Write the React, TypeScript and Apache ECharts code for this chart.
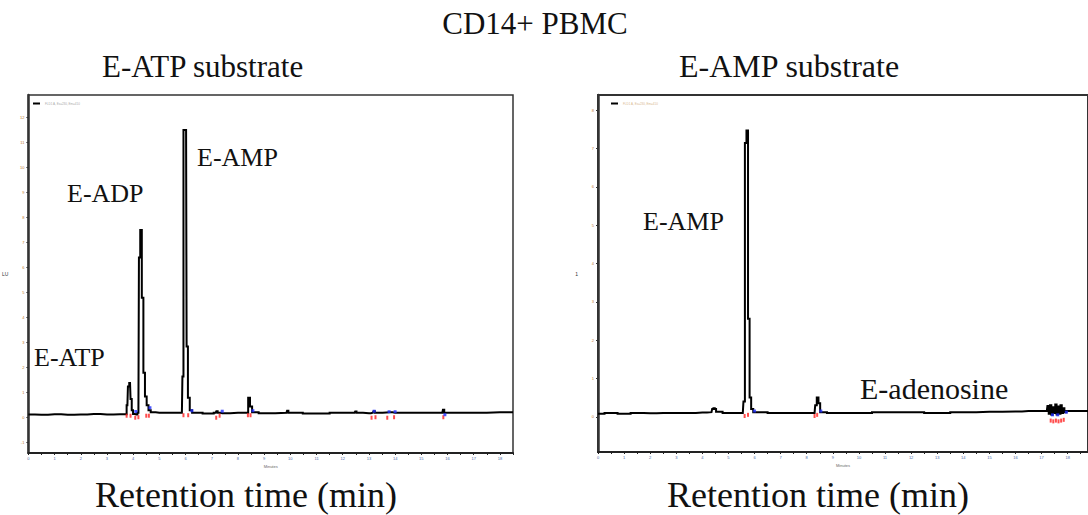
import React, { useEffect, useRef } from "react";
import * as echarts from "echarts";

// ---- Left panel: E-ATP substrate ----
const leftTime = [0.0, 0.5, 1.0, 1.5, 2.0, 2.5, 3.0, 3.5, 3.72, 3.78, 3.82, 3.88, 3.92, 3.97, 4.02, 4.12, 4.2, 4.24, 4.3, 4.36, 4.42, 4.48, 4.55, 4.62, 4.72, 5.0, 5.4, 5.86, 5.9, 5.94, 6.02, 6.06, 6.12, 6.2, 6.3, 7.0, 7.15, 7.2, 7.25, 7.4, 8.0, 8.36, 8.42, 8.5, 8.58, 9.0, 9.85, 9.9, 9.95, 11.0, 12.0, 12.45, 12.5, 12.55, 13.0, 13.15, 13.2, 13.25, 13.8, 14.0, 15.0, 15.8, 15.85, 15.9, 17.0, 18.0, 18.5];
const leftSignal = [0.13, 0.12, 0.14, 0.12, 0.13, 0.15, 0.13, 0.14, 0.14, 0.5, 1.25, 1.39, 0.75, 0.3, 0.15, 0.13, 0.2, 6.4, 7.5, 4.8, 1.8, 0.85, 0.5, 0.3, 0.22, 0.2, 0.2, 0.2, 1.65, 11.5, 11.5, 2.85, 0.8, 0.3, 0.2, 0.17, 0.2, 0.26, 0.2, 0.18, 0.2, 0.2, 0.8, 0.45, 0.22, 0.18, 0.2, 0.28, 0.2, 0.17, 0.2, 0.2, 0.25, 0.2, 0.18, 0.2, 0.26, 0.2, 0.22, 0.2, 0.2, 0.2, 0.32, 0.2, 0.2, 0.22, 0.22];
const leftRedTime = [3.75, 3.9, 4.08, 4.2, 4.5, 4.6, 5.92, 6.1, 7.17, 7.3, 8.38, 8.48, 13.1, 13.25, 13.7, 13.96, 15.84];
const leftRedLevel = [0.08, 0.08, 0.0, 0.02, 0.08, 0.08, 0.1, 0.1, 0.0, 0.08, 0.1, 0.1, 0.0, 0.02, 0.0, 0.02, 0.02];
const leftBlueTime = [4.1, 4.64, 6.24, 7.4, 8.57, 13.2, 13.77, 14.0, 15.9];
const leftBlueLevel = [0.25, 0.4, 0.28, 0.26, 0.28, 0.26, 0.24, 0.24, 0.12];
const leftYTicks = [-1, 0, 1, 2, 3, 4, 5, 6, 7, 8, 9, 10, 11, 12];

// ---- Right panel: E-AMP substrate ----
const rightTime = [0.0, 0.5, 1.0, 1.5, 2.0, 2.5, 3.0, 3.5, 4.0, 4.35, 4.4, 4.45, 4.5, 4.55, 5.0, 5.55, 5.6, 5.66, 5.72, 5.78, 5.84, 5.9, 6.0, 7.0, 8.3, 8.35, 8.42, 8.48, 8.55, 9.0, 10.0, 11.0, 12.0, 13.0, 14.0, 15.0, 16.0, 16.5, 17.0, 17.2, 17.25, 17.3, 17.35, 17.4, 17.45, 17.5, 17.55, 17.6, 17.65, 17.7, 17.75, 17.8, 17.85, 17.9, 18.0, 18.8];
const rightSignal = [0.08, 0.1, 0.08, 0.1, 0.09, 0.1, 0.1, 0.1, 0.11, 0.12, 0.2, 0.22, 0.2, 0.13, 0.1, 0.1, 0.4, 7.15, 7.47, 2.56, 0.5, 0.2, 0.12, 0.1, 0.1, 0.3, 0.5, 0.35, 0.12, 0.1, 0.1, 0.12, 0.12, 0.1, 0.12, 0.13, 0.14, 0.15, 0.15, 0.15, 0.28, 0.08, 0.3, 0.05, 0.25, 0.1, 0.32, 0.06, 0.27, 0.08, 0.3, 0.1, 0.22, 0.12, 0.15, 0.15];
const rightRedTime = [5.62, 5.75, 8.3, 8.4, 17.35, 17.45, 17.55, 17.65, 17.75, 17.85];
const rightRedLevel = [0.02, 0.05, 0.02, 0.05, -0.1, -0.12, -0.1, -0.12, -0.1, -0.08];
const rightBlueTime = [6.0, 8.54, 17.42, 17.62, 17.95];
const rightBlueLevel = [0.15, 0.15, 0.05, 0.05, 0.12];
const rightYTicks = [0, 1, 2, 3, 4, 5, 6, 7, 8];

const zip = (a: number[], b: number[]) => a.map((v, i) => [v, b[i]]);

const serif = '"Liberation Serif", "Times New Roman", serif';

function xAxis(gridIndex: number, max: number) {
  return {
    type: "value",
    gridIndex,
    min: 0,
    max,
    interval: 1,
    name: "Minutes",
    nameLocation: "middle",
    nameGap: 9,
    nameTextStyle: { fontSize: 4, color: "#666" },
    axisLine: { onZero: false, lineStyle: { color: "#222", width: 2 } },
    axisTick: { show: true, length: 2, lineStyle: { color: "#222" } },
    minorTick: { show: true, splitNumber: 2, length: 2, lineStyle: { color: "#222" } },
    axisLabel: { fontSize: 4, color: "#4a6aa8", margin: 3, showMaxLabel: false },
    splitLine: { show: false },
  };
}

function yAxis(gridIndex: number, min: number, max: number, ticks: number[], name: string) {
  return {
    type: "value",
    gridIndex,
    min,
    max,
    name,
    nameLocation: "middle",
    nameGap: 20,
    nameRotate: 0,
    nameTextStyle: { fontSize: 5, color: "#333" },
    axisLine: { show: true, lineStyle: { color: "#333", width: 2.5 } },
    axisTick: { show: true, length: 2, customValues: ticks, lineStyle: { color: "#333" } },
    axisLabel: { show: true, fontSize: 4, color: "#c07a30", margin: 4, customValues: ticks },
    splitLine: { show: false },
  };
}

function trace(name: string, idx: number, data: number[][]) {
  return {
    name,
    type: "line",
    xAxisIndex: idx,
    yAxisIndex: idx,
    data,
    step: "middle",
    showSymbol: false,
    symbol: "none",
    lineStyle: { color: "#000", width: 2, join: "miter" },
    itemStyle: { color: "#000" },
    z: 3,
  };
}

function marks(idx: number, data: number[][], color: string, size: number[]) {
  return {
    type: "scatter",
    xAxisIndex: idx,
    yAxisIndex: idx,
    data,
    symbol: "rect",
    symbolSize: size,
    itemStyle: { color },
    z: 4,
    silent: true,
  };
}

function label(text: string, x: number, y: number, size: number, align = "left") {
  return {
    type: "text",
    x,
    y,
    style: {
      text,
      fontSize: size,
      fontFamily: serif,
      fill: "#111",
      align,
      verticalAlign: "middle",
    },
    z: 10,
  };
}

export default function App() {
  const ref = useRef<HTMLDivElement>(null);
  useEffect(() => {
    const chart = echarts.init(ref.current!, null, { renderer: "svg" });
    chart.setOption({
      animation: false,
      backgroundColor: "#fff",
      grid: [
        { left: 22, top: 95, width: 491, height: 358, show: true, borderColor: "#333", borderWidth: 1.5 },
        { left: 598, top: 95, width: 496, height: 357, show: true, borderColor: "#333", borderWidth: 2 },
      ],
      legend: [
        {
          data: ["FLD1 A, Ex=230, Em=410"],
          left: 28,
          top: 97,
          itemWidth: 7,
          itemHeight: 2,
          itemGap: 2,
          icon: "rect",
          textStyle: { fontSize: 3, color: "#aaa" },
        },
        {
          data: ["FLD1 A, Ex=230, Em=410 "],
          left: 606,
          top: 97,
          itemWidth: 7,
          itemHeight: 2,
          itemGap: 2,
          icon: "rect",
          textStyle: { fontSize: 3, color: "#d8b890" },
        },
      ],
      xAxis: [xAxis(0, 18.5), xAxis(1, 18.78)],
      yAxis: [
        yAxis(0, -1.41, 12.9, leftYTicks, "LU"),
        yAxis(1, -0.92, 8.4, rightYTicks, "1"),
      ],
      series: [
        trace("FLD1 A, Ex=230, Em=410", 0, zip(leftTime, leftSignal)),
        marks(0, zip(leftRedTime, leftRedLevel), "#ff2020", [2, 4]),
        marks(0, zip(leftBlueTime, leftBlueLevel), "#2030ff", [3, 3]),
        trace("FLD1 A, Ex=230, Em=410 ", 1, zip(rightTime, rightSignal)),
        marks(1, zip(rightRedTime, rightRedLevel), "#ff2020", [2, 4]),
        marks(1, zip(rightBlueTime, rightBlueLevel), "#2030ff", [3, 3]),
      ],
      graphic: [
        label("CD14+ PBMC", 535, 23, 31, "center"),
        label("E-ATP substrate", 102, 66, 31),
        label("E-AMP substrate", 679, 66, 32),
        label("E-AMP", 197, 157, 26),
        label("E-ADP", 67, 193, 26),
        label("E-ATP", 34, 357, 26),
        label("E-AMP", 643, 221, 26),
        label("E-adenosine", 860, 388, 30),
        label("Retention time (min)", 95, 495, 36),
        label("Retention time (min)", 667, 495, 36),
      ],
    });
    return () => chart.dispose();
  }, []);
  return (
    <div
      ref={ref}
      style={{ position: "fixed", left: 0, top: 0, width: 1088, height: 515, background: "#fff" }}
    />
  );
}
